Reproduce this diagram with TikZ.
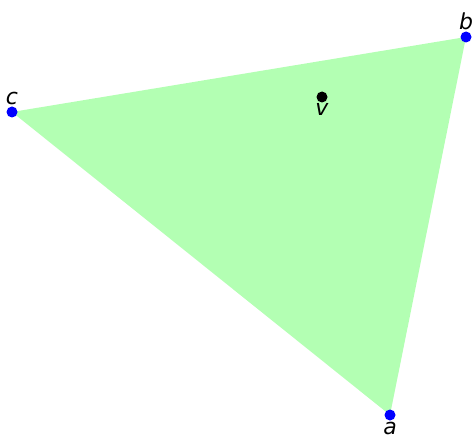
\documentclass[tikz,border=0pt]{standalone}
\usepackage{fontspec}
\setmainfont{DejaVu Sans}
\usepackage{xcolor}
\definecolor{facegreen}{RGB}{179,255,179}
\definecolor{ptblue}{RGB}{0,0,255}
\tikzset{
  vertex/.style={circle, fill=ptblue, inner sep=0pt, minimum size=11pt},
  inner/.style={circle, fill=black, inner sep=0pt, minimum size=11pt},
  lbl/.style={font=\fontsize{22}{26}\selectfont\itshape, inner sep=1pt},
}
\begin{document}
\begin{tikzpicture}[x=1pt, y=-1pt]
  \useasboundingbox (0,0) rectangle (476,441);

  % corners of the face
  \coordinate (pa) at (390,415);
  \coordinate (pb) at (466,37);
  \coordinate (pc) at (12,112);
  \fill[facegreen] (pa) -- (pb) -- (pc) -- cycle;

  % points
  \node[vertex, label={[lbl, name=la]below:a}] (a) at (pa) {};
  \node[vertex, label={[lbl, name=lb]above:b}] (b) at (pb) {};
  \node[vertex, label={[lbl, name=lc]above:c}] (c) at (pc) {};
  \node[inner, label={[lbl, name=lv]below:v}] (v) at (322,97) {};
\end{tikzpicture}
\end{document}
